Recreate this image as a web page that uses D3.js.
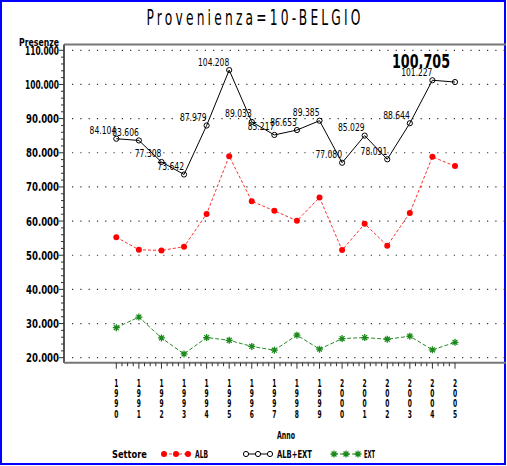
<!DOCTYPE html>
<html lang="it">
<head>
    <meta charset="UTF-8">
    <title>Provenienza=10-BELGIO</title>
    <script src="https://d3js.org/d3.v7.min.js"></script>
    <style>
        body { margin: 0; background: #fff; }
        svg { display: block; }
        text { font-family: 'DejaVu Sans Condensed', 'DejaVu Sans', sans-serif; font-stretch: condensed; fill: #000; }
    </style>
</head>
<body>
    <svg id="chart" width="507" height="466"></svg>

    <script>
        const years = [1990, 1991, 1992, 1993, 1994, 1995, 1996, 1997, 1998, 1999, 2000, 2001, 2002, 2003, 2004, 2005];
        const albExt = [84104, 83606, 77308, 73642, 87979, 104208, 89033, 85217, 86653, 89385, 77080, 85029, 78091, 88644, 101227, 100705];
        const alb = [55300, 51600, 51400, 52500, 62100, 79000, 65800, 63000, 60100, 66900, 51500, 59200, 52800, 62400, 78800, 76100];
        const ext = [28800, 31900, 25800, 21100, 25900, 25100, 23300, 22200, 26600, 22500, 25600, 25900, 25400, 26300, 22300, 24500];
        const yTicks = [20000, 30000, 40000, 50000, 60000, 70000, 80000, 90000, 100000, 110000];

        const it = d3.formatLocale({ decimal: ",", thousands: ".", grouping: [3], currency: ["", "€"] });
        const fmt = it.format(",.0f");
        const fmtTick = v => it.format(",.3f")(v / 1000).replace(",", "."); // 110.000

        // the SAS fonts are very narrow: force text widths
        const squeeze = (sel, w) => sel.attr("textLength", w).attr("lengthAdjust", "spacingAndGlyphs");

        const svg = d3.select("#chart");
        const x = d3.scaleLinear().domain([1990, 2005]).range([116.3, 455]);
        const y = d3.scaleLinear().domain([20000, 110000]).range([357.7, 50.3]);
        const pLeft = 64, pRight = 506, pTop = 44.5, pBottom = 362.7;

        // window border
        svg.append("rect").attr("x", 1).attr("y", 1).attr("width", 504).attr("height", 463)
            .attr("fill", "none").attr("stroke", "#0000ff").attr("stroke-width", 2);

        // title: thin narrow glyphs, wide spacing
        const tk = 0.62;
        svg.append("text").attr("transform", `scale(${tk},1)`)
            .attr("x", 146.5 / tk).attr("y", 25).attr("font-size", 22).attr("font-weight", 300)
            .attr("textLength", 214 / tk).attr("lengthAdjust", "spacing")
            .text("Provenienza=10-BELGIO");

        // grid
        svg.append("g").selectAll("line").data(yTicks).join("line")
            .attr("x1", 72).attr("x2", pRight).attr("y1", d => y(d)).attr("y2", d => y(d))
            .attr("stroke", "#333").attr("stroke-width", 1.2).attr("stroke-dasharray", "1.2,7.1");

        // frame
        svg.append("line").attr("x1", pLeft).attr("x2", pRight).attr("y1", pTop).attr("y2", pTop)
            .attr("stroke", "#777").attr("stroke-width", 2);
        svg.append("line").attr("x1", pLeft).attr("x2", pLeft).attr("y1", pTop).attr("y2", pBottom)
            .attr("stroke", "#555").attr("stroke-width", 2);
        svg.append("line").attr("x1", pLeft).attr("x2", pRight).attr("y1", pBottom).attr("y2", pBottom)
            .attr("stroke", "#777").attr("stroke-width", 2);

        // y axis
        const yMinor = d3.range(20000, 110001, 2000);
        svg.append("g").selectAll("line").data(yMinor).join("line")
            .attr("x1", d => d % 10000 === 0 ? pLeft - 5 : pLeft - 3).attr("x2", pLeft)
            .attr("y1", d => y(d)).attr("y2", d => y(d)).attr("stroke", "#333");
        svg.append("g").selectAll("text").data(yTicks).join("text")
            .attr("x", d => 59 - (fmtTick(d).length === 7 ? 34 : 33)).attr("y", d => y(d) + 4.5)
            .attr("font-size", 12).attr("font-weight", "bold")
            .attr("textLength", d => fmtTick(d).length === 7 ? 34 : 33).attr("lengthAdjust", "spacingAndGlyphs")
            .text(fmtTick);
        svg.append("text").attr("x", 19).attr("y", 45.5).attr("font-size", 10.5).attr("font-weight", "bold")
            .call(squeeze, 40).text("Presenze");

        // x axis
        const xMinor = d3.range(1990, 2005.01, 0.25);
        svg.append("g").selectAll("line").data(xMinor).join("line")
            .attr("x1", d => x(d)).attr("x2", d => x(d)).attr("y1", pBottom)
            .attr("y2", d => Number.isInteger(d) ? pBottom + 6 : pBottom + 3.5).attr("stroke", "#333");
        const digits = years.flatMap(yr => String(yr).split("").map((c, i) => ({ c, yr, i })));
        svg.append("g").selectAll("text").data(digits).join("text")
            .attr("transform", d => `translate(${x(d.yr)},${386.5 + d.i * 10.4}) scale(0.6,1)`)
            .attr("text-anchor", "middle").attr("font-size", 11).attr("font-weight", "bold")
            .text(d => d.c);
        svg.append("text").attr("x", 277).attr("y", 439).attr("font-size", 10.5).attr("font-weight", "bold")
            .call(squeeze, 18).text("Anno");

        // series
        const line = vals => d3.line().x((d, i) => x(years[i])).y(d => y(d))(vals);
        const star = r => `M${-r},0L${r},0M0,${-r}L0,${r}M${-r * 0.7},${-r * 0.7}L${r * 0.7},${r * 0.7}M${-r * 0.7},${r * 0.7}L${r * 0.7},${-r * 0.7}`;

        svg.append("path").attr("d", line(ext)).attr("fill", "none")
            .attr("stroke", "#2a8a2a").attr("stroke-width", 1).attr("stroke-dasharray", "4,2");
        svg.append("g").selectAll("path").data(ext).join("path")
            .attr("transform", (d, i) => `translate(${x(years[i])},${y(d)})`)
            .attr("d", star(3.5)).attr("stroke", "#1a8a1a").attr("stroke-width", 1.3).attr("fill", "none");

        svg.append("path").attr("d", line(alb)).attr("fill", "none")
            .attr("stroke", "#ff3030").attr("stroke-width", 1).attr("stroke-dasharray", "3,2");
        svg.append("g").selectAll("circle").data(alb).join("circle")
            .attr("cx", (d, i) => x(years[i])).attr("cy", d => y(d)).attr("r", 3).attr("fill", "#ff0000");

        svg.append("path").attr("d", line(albExt)).attr("fill", "none")
            .attr("stroke", "#000").attr("stroke-width", 1);
        svg.append("g").selectAll("circle").data(albExt).join("circle")
            .attr("cx", (d, i) => x(years[i])).attr("cy", d => y(d)).attr("r", 2.6)
            .attr("fill", "none").attr("stroke", "#000").attr("stroke-width", 1);

        // point labels (last one drawn large, as in the source)
        const last = albExt.length - 1;
        svg.append("g").selectAll("text").data(albExt.slice(0, last)).join("text")
            .attr("x", (d, i) => x(years[i]) - fmt(d).length * 4.45).attr("y", d => y(d) - 4.5)
            .attr("font-size", 10)
            .attr("textLength", d => fmt(d).length * 4.45).attr("lengthAdjust", "spacingAndGlyphs")
            .text(fmt);
        svg.append("text").attr("x", x(years[last]) - 63).attr("y", y(albExt[last]) - 14)
            .attr("font-size", 20).attr("font-weight", "bold")
            .call(squeeze, 58).text(fmt(albExt[last]));

        // legend
        const ly = 454;
        svg.append("text").attr("x", 112).attr("y", ly + 4).attr("font-size", 10.5).attr("font-weight", "bold")
            .call(squeeze, 35).text("Settore");
        const legend = [
            { name: "ALB", x0: 164, tx: 195, w: 13, kind: "alb" },
            { name: "ALB+EXT", x0: 246, tx: 277, w: 35, kind: "tot" },
            { name: "EXT", x0: 334, tx: 364, w: 11, kind: "ext" }
        ];
        legend.forEach(l => {
            const g = svg.append("g");
            const xs = [l.x0, l.x0 + 12, l.x0 + 24];
            if (l.kind === "alb") {
                g.append("line").attr("x1", xs[0]).attr("x2", xs[2]).attr("y1", ly).attr("y2", ly)
                    .attr("stroke", "#ff3030").attr("stroke-dasharray", "3,2");
                xs.forEach(v => g.append("circle").attr("cx", v).attr("cy", ly).attr("r", 3).attr("fill", "#ff0000"));
            } else if (l.kind === "tot") {
                g.append("line").attr("x1", xs[0]).attr("x2", xs[2]).attr("y1", ly).attr("y2", ly).attr("stroke", "#000");
                xs.forEach(v => g.append("circle").attr("cx", v).attr("cy", ly).attr("r", 2.6)
                    .attr("fill", "#fff").attr("stroke", "#000"));
            } else {
                g.append("line").attr("x1", xs[0]).attr("x2", xs[2]).attr("y1", ly).attr("y2", ly)
                    .attr("stroke", "#2a8a2a").attr("stroke-dasharray", "4,2");
                xs.forEach(v => g.append("path").attr("transform", `translate(${v},${ly})`)
                    .attr("d", star(3.5)).attr("stroke", "#1a8a1a").attr("stroke-width", 1.3));
            }
            g.append("text").attr("x", l.tx).attr("y", ly + 4).attr("font-size", 10.5).attr("font-weight", "bold")
                .call(squeeze, l.w).text(l.name);
        });
    </script>
</body>
</html>
